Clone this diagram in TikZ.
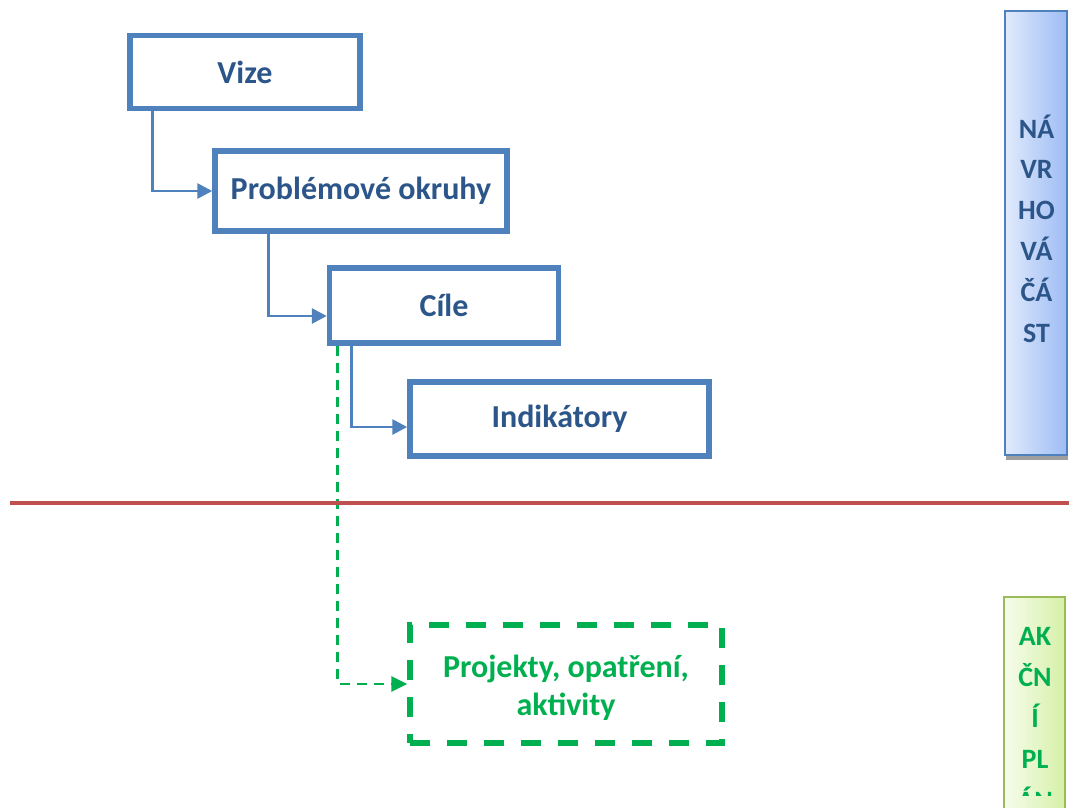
\documentclass[tikz,border=0pt]{standalone}
\usepackage{fontspec}
\setmainfont{Carlito}
\usetikzlibrary{arrows.meta}
\definecolor{boxblue}{RGB}{79,129,189}
\definecolor{txtblue}{RGB}{44,86,138}
\definecolor{grn}{RGB}{0,176,80}
\definecolor{redline}{RGB}{192,80,77}
\definecolor{barlight}{RGB}{224,234,252}
\definecolor{bardark}{RGB}{158,188,244}
\definecolor{gbarlight}{RGB}{246,252,236}
\definecolor{gbardark}{RGB}{214,240,168}
\definecolor{gbarborder}{RGB}{155,187,89}
\begin{document}
\begin{tikzpicture}[x=1pt,y=-1pt,
  bluebox/.style={draw=boxblue, line width=5.5pt, fill=white, inner sep=0pt,
    font=\fontsize{32}{38}\selectfont\bfseries, text=txtblue},
  greenbox/.style={draw=grn, line width=5.5pt, dash pattern=on 20pt off 17pt, inner sep=0pt},
  greentext/.style={inner sep=0pt, align=center, font=\fontsize{32}{38}\selectfont\bfseries, text=grn},
  conn/.style={draw=boxblue, line width=2.8pt, -{Triangle[length=15pt,width=15pt]}},
  gconn/.style={draw=grn, line width=2.8pt, dash pattern=on 10pt off 7pt,
    -{Triangle[length=16pt,width=15pt]}},
  bartext/.style={font=\fontsize{28}{33}\selectfont\bfseries, anchor=base, inner sep=0pt},
]
\useasboundingbox (0,0) rectangle (1069,807);
\clip (0,0) rectangle (1069,807);

% boxes
\node[bluebox, minimum width=230pt, minimum height=73pt] (vize) at (245,72) {Vize};
\node[bluebox, minimum width=292pt, minimum height=80pt] (prob) at (361,191) {Problémové okruhy};
\node[bluebox, minimum width=229pt, minimum height=75pt] (cile) at (444,305.5) {Cíle};
\node[bluebox, minimum width=299pt, minimum height=74pt] (indik) at (559.5,419) {Indikátory};
\node[greenbox, minimum width=312pt, minimum height=118pt] (proj) at (566,684) {};
\node[greentext] (projtext) at (566,688) {Projekty, opatření,\\aktivity};

% connectors
\draw[conn] ([xshift=25pt]vize.south west) |- (prob.west);
\draw[conn] ([xshift=56.5pt]prob.south west) |- ([yshift=-10.5pt]cile.west);
\draw[conn] ([xshift=24.5pt]cile.south west) |- ([yshift=-8pt]indik.west);
\draw[gconn] ([xshift=11pt]cile.south west) |- (proj.west);

% red separator
\coordinate (redL) at (10,503.3);
\coordinate (redR) at (1069,503.3);
\draw[redline, line width=4pt] (redL) -- (redR);

% blue side bar
\fill[gray!75] (1006,15) rectangle (1068,460);
\draw[boxblue, line width=2pt, left color=barlight, right color=bardark] (1005,11) rectangle (1067,455);
\foreach \t [count=\i] in {NÁ,VR,HO,VÁ,ČÁ,ST}
  \node[bartext, text=txtblue] (bar\i) at (1036.5,{138+40.8*(\i-1)}) {\t};

% green side bar
\draw[gbarborder, line width=2pt, left color=gbarlight, right color=gbardark] (1004,597) rectangle (1065,815);
\foreach \t [count=\i] in {AK,ČN,Í,PL}
  \node[bartext, text=grn] (gbar\i) at (1035,{645+41*(\i-1)}) {\t};
\begin{scope}
  \clip (1005,700) rectangle (1064,795);
  \node[bartext, text=grn] (gbar5) at (1035,810) {ÁN};
\end{scope}
\end{tikzpicture}
\end{document}
